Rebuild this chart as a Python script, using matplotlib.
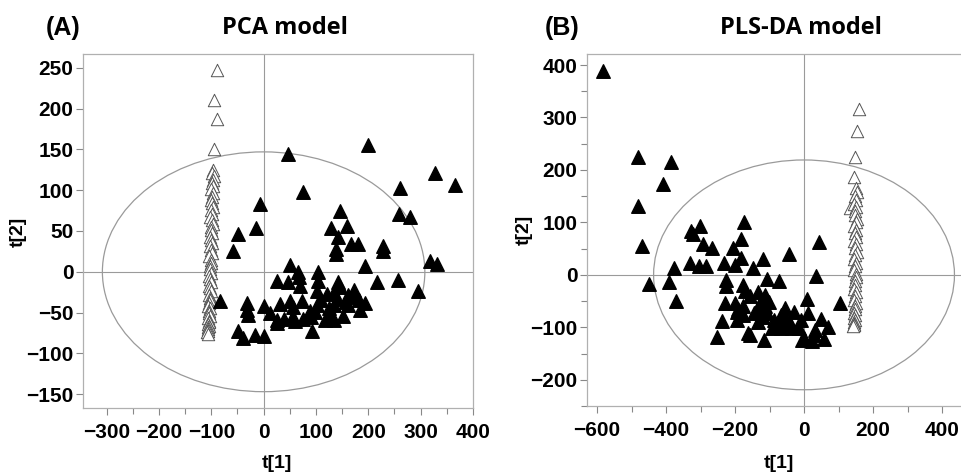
import numpy as np
import matplotlib
matplotlib.use("Agg")
import matplotlib.pyplot as plt
from matplotlib.patches import Ellipse
from matplotlib.ticker import MultipleLocator

plt.rcParams["font.family"] = ["Liberation Sans", "DejaVu Sans"]
plt.rcParams["font.weight"] = "bold"

# ---- panel A (PCA) : filled triangles ----
pca_fill_x = [200, 46, 328, 365, 261, 75, -6, 259, 280, 146, -14, 159, 129, -49, 143,
              166, 180, 229, 229, -59, 138, 138, 194, 317, 331, 51, 66, 104, 217, 257,
              294, 25, 46, 68, 70, 104, 143, 146, 102, 121, 134, 162, 172, 182, 194,
              -83, -32, 32, 51, 73, 102, 134, 162, 185, -32, -30, 0, 13, 25, 38,
              54, 76, 91, 99, 118, 127, 134, 152, 92, -48, -39, -16, 0, 25, 57, 172,
              110, 88, 140, 60, 125, 158]
pca_fill_y = [155, 144, 121, 106, 103, 98, 83, 71, 67, 74, 54, 56, 54, 46, 43,
              34, 34, 32, 26, 26, 28, 22, 7, 13, 10, 8, 0, 0, -12, -10,
              -23, -11, -12, -7, -17, -11, -13, -19, -23, -27, -25, -28, -31, -34, -38,
              -36, -38, -40, -36, -36, -41, -41, -41, -47, -47, -53, -42, -51, -59, -58,
              -57, -58, -56, -49, -59, -54, -59, -54, -73, -73, -81, -77, -79, -63, -43, -22,
              -35, -48, -33, -60, -45, -37]

# ---- panel A (PCA) : open triangles ----
pca_open_x = [-89, -94, -90, -94,
              -96, -98, -95, -97, -99, -96, -100, -97, -98, -101, -99, -97, -100, -98,
              -102, -99, -97, -101, -100, -98, -103, -100, -99, -102, -101, -99, -104,
              -101, -100, -103, -102, -100, -105, -102, -101, -104, -103, -101, -105,
              -103, -102, -104, -106, -103, -105, -104, -102, -106, -104, -105, -107,
              -105, -106, -107, -106, -108, -107]
pca_open_y = [247, 210, 187, 150,
              125, 121, 117, 113, 109, 105, 101, 97, 92, 88, 84, 80, 76, 71,
              67, 63, 59, 55, 51, 47, 43, 39, 35, 31, 27, 23, 19,
              15, 11, 7, 3, -1, -5, -9, -13, -17, -20, -24, -28,
              -32, -35, -38, -42, -45, -48, -51, -54, -57, -60, -62, -64,
              -66, -68, -70, -72, -74, -76]

# ---- panel B (PLS-DA) : filled triangles ----
pls_fill_x = [-583, -480, -387, -410, -481, -471, -449, -376, -390, -371, -329, -302,
              -322, -293, -268, -330, -305, -283, -174, -183, -205, -183, -200, -231,
              -119, -149, -44, 44, 34, -107, -73, -225, -225, -176, -171, -158, -132,
              -112, -102, -229, -200, -176, -112, -137, -107, -54, -29, -68, -88, -49,
              -10, 10, 12, 49, 105, 70, 32, 59, -5, 24, -117, -251, -237, -193, -161,
              -158, -132, -176, -195, -68, -34, -15, 29, -63, -93, -146, -127,
              -120, -80, -60, -190, -40, 0]
pls_fill_y = [389, 225, 216, 173, 132, 55, -18, 13, -13, -49, 84, 93,
              77, 58, 52, 22, 16, 16, 100, 68, 51, 32, 19, 23,
              30, 14, 40, 62, -2, -8, -11, -10, -22, -19, -30, -41, -33,
              -39, -51, -53, -54, -59, -59, -69, -73, -63, -70, -76, -86, -86,
              -86, -46, -72, -84, -53, -100, -105, -123, -124, -127, -125, -119, -87, -86, -110,
              -114, -89, -76, -70, -102, -102, -102, -114, -92, -102, -73, -54,
              -80, -95, -82, -65, -92, -120]

# ---- panel B (PLS-DA) : open triangles ----
pls_open_x = [159, 154, 148, 144, 132,
              150, 153, 148, 151, 146, 152, 149, 147, 153, 150, 145, 151, 148, 152,
              146, 150, 147, 153, 149, 145, 151, 148, 146, 152, 150, 147, 149, 145,
              151, 148, 146, 150, 147, 149, 145, 148, 146, 147, 144, 146, 145, 143]
pls_open_y = [317, 275, 225, 187, 127,
              165, 158, 150, 143, 136, 129, 122, 114, 107, 100, 93, 86, 79, 72,
              65, 58, 51, 44, 37, 30, 23, 16, 9, 2, -5, -12, -19, -26,
              -33, -40, -47, -54, -60, -66, -72, -77, -82, -86, -90, -93, -96, -98]

pca_ellipse = (616, 294)
pls_ellipse = (872, 438)

fig = plt.figure(figsize=(9.62, 4.72), dpi=100)
grey = "#9a9a9a"


def style_axes(ax):
    for s in ax.spines.values():
        s.set_color("#b0b0b0")
        s.set_linewidth(0.9)
    ax.tick_params(direction="out", length=5, width=0.8, color="#888888",
                   which="both", labelsize=15)
    ax.tick_params(axis="x", pad=6)
    ax.tick_params(axis="y", pad=2)
    ax.tick_params(which="minor", length=4)
    ax.axhline(0, color=grey, lw=0.8, zorder=1)
    ax.axvline(0, color=grey, lw=0.8, zorder=1)


# panel A
axA = fig.add_axes([0.0863, 0.1356, 0.4054, 0.75])
axA.set_xlim(-345, 400)
axA.set_ylim(-167, 267)
axA.xaxis.set_major_locator(MultipleLocator(100))
axA.xaxis.set_minor_locator(MultipleLocator(50))
axA.yaxis.set_major_locator(MultipleLocator(50))
axA.add_patch(Ellipse((0, 0), *pca_ellipse, fill=False, ec=grey, lw=0.9, zorder=1))
axA.scatter(pca_open_x, pca_open_y, marker="^", s=80, facecolors="white",
            edgecolors="#555555", linewidths=0.7, zorder=2)
axA.scatter(pca_fill_x, pca_fill_y, marker="^", s=95, c="black", zorder=3)
style_axes(axA)

# panel B
axB = fig.add_axes([0.6102, 0.1398, 0.392, 0.7458])
axB.set_xlim(-629, 464)
axB.set_ylim(-250, 421)
axB.xaxis.set_major_locator(MultipleLocator(200))
axB.xaxis.set_minor_locator(MultipleLocator(100))
axB.yaxis.set_major_locator(MultipleLocator(100))
axB.yaxis.set_minor_locator(MultipleLocator(50))
axB.add_patch(Ellipse((0, 0), *pls_ellipse, fill=False, ec=grey, lw=0.9, zorder=1))
axB.scatter(pls_open_x, pls_open_y, marker="^", s=80, facecolors="white",
            edgecolors="#555555", linewidths=0.7, zorder=2)
axB.scatter(pls_fill_x, pls_fill_y, marker="^", s=95, c="black", zorder=3)
style_axes(axB)

lab_font = dict(family="Liberation Sans", weight="bold", size=14)
title_font = dict(family="Open Sans", weight="bold", size=17)
tag_font = dict(family="Liberation Sans", weight="bold", size=18)

fig.text(0.066, 0.941, "(A)", ha="center", va="center", **tag_font)
fig.text(0.296, 0.941, "PCA model", ha="center", va="center", **title_font)
fig.text(0.584, 0.941, "(B)", ha="center", va="center", **tag_font)
fig.text(0.833, 0.941, "PLS-DA model", ha="center", va="center", **title_font)

fig.text(0.288, 0.018, "t[1]", ha="center", va="center", **lab_font)
fig.text(0.81, 0.018, "t[1]", ha="center", va="center", **lab_font)
fig.text(0.019, 0.508, "t[2]", ha="center", va="center", rotation=90, **lab_font)
fig.text(0.545, 0.513, "t[2]", ha="center", va="center", rotation=90, **lab_font)

fig.savefig("out.png", dpi=100)
